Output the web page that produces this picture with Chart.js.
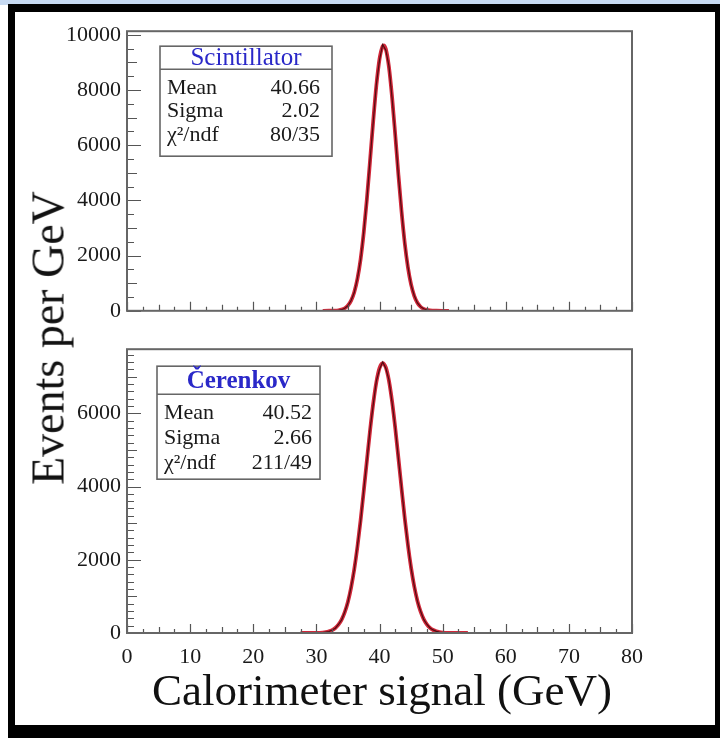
<!DOCTYPE html>
<html>
<head>
<meta charset="utf-8">
<script src="https://cdn.jsdelivr.net/npm/chart.js@4.4.1/dist/chart.umd.min.js"></script>
<style>
  html, body { margin: 0; padding: 0; width: 720px; height: 738px; overflow: hidden; background: #fff; position: relative; }
  #band { position: absolute; left: 0; top: 0; width: 720px; height: 5px; background: #c6d9f1; }
  #frame { position: absolute; left: 8px; top: 4px; width: 700px; height: 713px;
           border-style: solid; border-color: #000; border-width: 8px 5px 13px 7px; background: #fff; }
  canvas { position: absolute; left: 15px; }
  #cTop { top: 12px; }
  #cBot { top: 330px; }
  .title { position: absolute; font-family: 'Liberation Serif', 'Times New Roman', serif; color: #111; white-space: nowrap; }
  #ytitle { left: 48px; top: 338px; font-size: 46px; transform: translate(-50%, -50%) rotate(-90deg); }
  #xtitle { left: 382px; top: 690px; font-size: 45px; transform: translate(-50%, -50%); }
</style>
</head>
<body>
<div id="band"></div>
<div id="frame"></div>
<canvas id="cTop" width="700" height="318"></canvas>
<canvas id="cBot" width="700" height="395"></canvas>
<div class="title" id="ytitle">Events per GeV</div>
<div class="title" id="xtitle">Calorimeter signal (GeV)</div>
<script>
// Calorimeter energy spectra for 40 GeV electrons: scintillation and Čerenkov channels.
const xMin = 0, xMax = 80;

// Scintillator channel: Gaussian fit curve
const scintFitX = [31, 32, 33, 33.5, 34, 34.5, 35, 35.5, 36, 36.5, 37, 37.5, 38, 38.5, 39, 39.5, 40, 40.5, 40.66,
                   41, 41.5, 42, 42.5, 43, 43.5, 44, 44.5, 45, 45.5, 46, 46.5, 47, 47.5, 48, 49, 50, 51];
const scintFitY = [0, 1, 7, 18, 42, 92, 190, 368, 672, 1154, 1862, 2830, 4042, 5431, 6863, 8158, 9120, 9590, 9620,
                   9484, 8824, 7720, 6354, 4918, 3581, 2452, 1580, 957, 545, 292, 147, 70, 31, 13, 2, 0, 0];
// Scintillator channel: measured events per GeV
const scintHistX = [31, 31.5, 32, 32.5, 33, 33.5, 34, 34.5, 35, 35.5, 36, 36.5, 37, 37.5, 38, 38.5, 39, 39.5, 40, 40.5,
                    41, 41.5, 42, 42.5, 43, 43.5, 44, 44.5, 45, 45.5, 46, 46.5, 47, 47.5, 48, 48.5, 49, 49.5, 50, 50.5, 51];
const scintHistY = [0, 0, 2, 4, 8, 20, 40, 95, 185, 375, 660, 1170, 1840, 2860, 4010, 5470, 6820, 8200, 9080, 9650,
                    9440, 8870, 7680, 6390, 4880, 3610, 2430, 1600, 940, 555, 285, 150, 72, 30, 14, 5, 2, 1, 0, 0, 0];

// Čerenkov channel: Gaussian fit curve
const cerenFitX = [27.5, 28, 29, 30, 31, 31.5, 32, 32.5, 33, 33.5, 34, 34.5, 35, 35.5, 36, 36.5, 37, 37.5, 38, 38.5,
                   39, 39.5, 40, 40.5, 41, 41.5, 42, 42.5, 43, 43.5, 44, 44.5, 45, 45.5, 46, 46.5, 47, 47.5, 48,
                   48.5, 49, 49.5, 50, 51, 52, 53, 54];
const cerenFitY = [0, 0, 1, 3, 12, 23, 44, 78, 136, 226, 365, 569, 856, 1242, 1739, 2352, 3070, 3869, 4705, 5525,
                   6259, 6848, 7231, 7370, 7251, 6887, 6313, 5587, 4773, 3936, 3132, 2407, 1785, 1277, 883, 589, 379, 236, 141,
                   82, 46, 25, 13, 3, 1, 0, 0];
// Čerenkov channel: measured events per GeV
const cerenHistX = [28, 29, 30, 31, 31.5, 32, 32.5, 33, 33.5, 34, 34.5, 35, 35.5, 36, 36.5, 37, 37.5, 38, 38.5,
                    39, 39.5, 40, 40.5, 41, 41.5, 42, 42.5, 43, 43.5, 44, 44.5, 45, 45.5, 46, 46.5, 47, 47.5, 48,
                    48.5, 49, 49.5, 50, 51, 52, 53, 54];
const cerenHistY = [0, 1, 4, 10, 25, 40, 82, 130, 232, 358, 580, 840, 1260, 1720, 2380, 3040, 3900, 4680, 5560,
                    6230, 6880, 7200, 7400, 7230, 6910, 6280, 5610, 4750, 3960, 3110, 2420, 1770, 1290, 870, 600, 370, 240, 138,
                    85, 44, 26, 12, 4, 1, 0, 0];

// Statistics boxes
const statLabels = ['Mean', 'Sigma', 'χ²/ndf'];
const scintStats = ['40.66', '2.02', '80/35'];
const cerenStats = ['40.52', '2.66', '211/49'];

// Axis labelling
const xTickValues = [0, 10, 20, 30, 40, 50, 60, 70, 80];
const scintYTicks = [0, 2000, 4000, 6000, 8000, 10000];
const cerenYTicks = [0, 2000, 4000, 6000];
const scintYMax = 10130;
const cerenYMax = 7750;

const SERIF = "'Liberation Serif', 'Times New Roman', serif";

function points(xs, ys) {
  return xs.map((x, i) => ({ x: x, y: ys[i] }));
}

// Frame, inward ROOT-style ticks and the fit statistics box
const rootStyle = {
  id: 'rootStyle',
  afterDatasetsDraw(chart, args, o) {
    const { ctx, chartArea: a, scales: { x, y } } = chart;
    ctx.save();
    ctx.strokeStyle = '#555';
    ctx.lineWidth = 1.2;
    ctx.beginPath();
    for (let i = 0; i <= 32; i++) {
      const v = i * 2.5;
      const px = Math.round(x.getPixelForValue(v)) + 0.5;
      const len = v % 10 === 0 ? 9 : (v % 5 === 0 ? 6 : 4);
      ctx.moveTo(px, a.bottom);
      ctx.lineTo(px, a.bottom - len);
    }
    for (let v = 0; v <= y.max; v += o.yMinor) {
      const py = Math.round(y.getPixelForValue(v)) + 0.5;
      const len = v % 2000 === 0 ? 14 : (v % 1000 === 0 ? 10 : 7);
      ctx.moveTo(a.left, py);
      ctx.lineTo(a.left + len, py);
    }
    ctx.stroke();

    // plot frame
    ctx.strokeStyle = '#666';
    ctx.lineWidth = 2;
    ctx.strokeRect(a.left, a.top, a.right - a.left, a.bottom - a.top);

    // statistics box
    const b = o.box;
    const bx = a.left + b.dx, by = a.top + b.dy;
    ctx.fillStyle = '#fff';
    ctx.fillRect(bx, by, b.w, b.h);
    ctx.strokeStyle = '#666';
    ctx.lineWidth = 1.6;
    ctx.strokeRect(bx, by, b.w, b.h);
    ctx.beginPath();
    ctx.moveTo(bx, by + b.head);
    ctx.lineTo(bx + b.w, by + b.head);
    ctx.stroke();

    ctx.textBaseline = 'middle';
    ctx.textAlign = 'center';
    ctx.fillStyle = '#2a28c8';
    ctx.font = (b.bold ? 'bold ' : '') + '25px ' + SERIF;
    ctx.fillText(o.name, bx + b.w / 2, by + b.head / 2 + 1);

    ctx.fillStyle = '#1a1a1a';
    ctx.font = '22px ' + SERIF;
    for (let i = 0; i < statLabels.length; i++) {
      const ry = by + b.row0 + i * b.rowStep;
      ctx.textAlign = 'left';
      ctx.fillText(statLabels[i], bx + 7, ry);
      ctx.textAlign = 'right';
      ctx.fillText(o.values[i], bx + b.w - b.padR, ry);
    }
    ctx.restore();
  }
};

function makePanel(id, histX, histY, fitX, fitY, yMax, yTicks, yMinor, showX, padTop, xHeight, name, values, box) {
  return new Chart(document.getElementById(id), {
    type: 'line',
    data: {
      datasets: [
        { label: 'data', data: points(histX, histY), borderColor: 'rgba(25,0,0,0.7)', borderWidth: 1.2,
          pointRadius: 0, tension: 0, fill: false },
        { label: 'fit', data: points(fitX, fitY), borderColor: '#d1283a', borderWidth: 3.8,
          pointRadius: 0, cubicInterpolationMode: 'monotone', fill: false }
      ]
    },
    options: {
      responsive: false,
      animation: false,
      events: [],
      layout: { padding: { left: 0, right: 83, top: padTop, bottom: 0 } },
      plugins: {
        legend: { display: false },
        tooltip: { enabled: false },
        rootStyle: { yMinor: yMinor, name: name, values: values, box: box }
      },
      scales: {
        x: {
          type: 'linear', min: xMin, max: xMax,
          grid: { display: false, drawTicks: false },
          border: { display: false },
          afterBuildTicks: s => { s.ticks = xTickValues.map(v => ({ value: v })); },
          ticks: { display: showX, padding: 11, autoSkip: false, maxRotation: 0,
                   callback: v => String(v),
                   color: '#1a1a1a', font: { family: SERIF, size: 22 } },
          afterFit: s => { s.height = xHeight; }
        },
        y: {
          type: 'linear', min: 0, max: yMax,
          grid: { display: false, drawTicks: false },
          border: { display: false },
          afterBuildTicks: s => { s.ticks = yTicks.map(v => ({ value: v })); },
          ticks: { padding: 6, autoSkip: false,
                   callback: v => String(v),
                   color: '#1a1a1a', font: { family: SERIF, size: 22 } },
          afterFit: s => { s.width = 112; }
        }
      }
    },
    plugins: [rootStyle]
  });
}

makePanel('cTop', scintHistX, scintHistY, scintFitX, scintFitY, scintYMax, scintYTicks, 500, false, 13, 9,
          'Scintillator', scintStats,
          { dx: 33, dy: 15, w: 172, h: 110, head: 23, row0: 42, rowStep: 23.5, padR: 12, bold: false });
makePanel('cBot', cerenHistX, cerenHistY, cerenFitX, cerenFitY, cerenYMax, cerenYTicks, 200, true, 8, 92,
          'Čerenkov', cerenStats,
          { dx: 30, dy: 17, w: 163, h: 113, head: 28, row0: 47, rowStep: 25, padR: 8, bold: true });
</script>
</body>
</html>
